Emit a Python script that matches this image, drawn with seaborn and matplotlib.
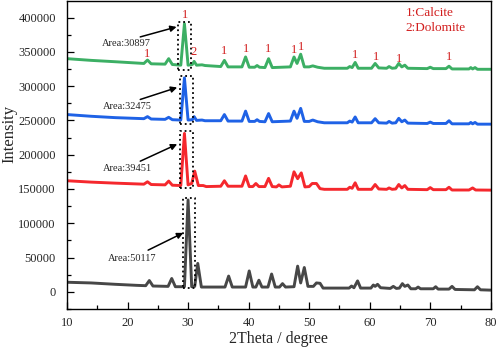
import numpy as np
import pandas as pd
import matplotlib
matplotlib.use("Agg")
import matplotlib.pyplot as plt
import matplotlib.ticker as ticker
import seaborn as sns

# ── data (2Theta in degrees, intensity in counts) ────────────────────────────

green_x = [10, 14, 18, 22.7, 23.3, 23.9, 26.2, 26.8, 27.4, 28.8, 29.4, 30.0, 30.7, 31.0, 31.4,
           32.3, 32.8, 35.4, 36.0, 36.6, 38.9, 39.5, 40.1, 41.0, 41.4, 41.8, 42.7, 43.3, 43.9,
           46.9, 47.5, 48.0, 48.6, 49.2, 50.0, 50.6, 51.4, 52.5, 56.3, 56.7, 57.1, 57.6, 58.1,
           60.3, 60.9, 61.5, 62.8, 63.2, 63.7, 64.3, 64.8, 65.3, 65.8, 66.3, 69.5, 70.0, 70.5,
           72.6, 73.1, 73.6, 76.4, 76.7, 77.0, 77.4, 77.8, 80]
green_y = [340000, 337500, 335500, 333000, 338000, 332500, 332000, 340000, 331500, 330500, 391000,
           330500, 331500, 336000, 330500, 331000, 330000, 328500, 337500, 328000, 328000, 342500,
           327500, 327500, 330000, 327500, 327000, 340000, 327000, 328000, 342500, 333000, 346500,
           328000, 328000, 329500, 327500, 326000, 326000, 328500, 327000, 334500, 326000, 326000,
           333000, 326500, 326000, 328500, 326000, 326500, 333000, 328000, 330500, 326000, 325500,
           327500, 325500, 325500, 329000, 325000, 325000, 327000, 325000, 327000, 324500, 324500]

blue_x = green_x
blue_y = [258500, 256000, 254000, 252500, 255500, 252000, 251500, 254500, 251000, 250500, 312000,
          250500, 251000, 255500, 250000, 250500, 249500, 249500, 258500, 249000, 249000, 263500,
          248500, 248500, 251000, 248500, 248000, 260000, 248000, 249000, 263500, 253000, 267500,
          248500, 248500, 250500, 248000, 246500, 246500, 249000, 247500, 255000, 246500, 246500,
          252500, 246500, 246000, 248500, 246000, 246500, 253000, 248000, 250500, 246000, 245500,
          247500, 245500, 245500, 249500, 245000, 245000, 247000, 245000, 247000, 244500, 244500]

red_x = [10, 14, 18, 22.7, 23.3, 23.9, 26.2, 26.8, 27.4, 28.8, 29.4, 30.0, 30.6, 31.1, 31.7,
         32.5, 33.0, 35.4, 36.0, 36.6, 38.9, 39.5, 40.1, 40.7, 41.2, 41.7, 42.7, 43.3, 43.9,
         44.6, 45.0, 45.5, 46.9, 47.5, 48.1, 48.7, 49.3, 50.0, 50.5, 51.2, 51.8, 52.5, 56.3,
         56.7, 57.1, 57.6, 58.1, 60.3, 60.9, 61.5, 62.8, 63.2, 63.7, 64.3, 64.8, 65.3, 65.8,
         66.3, 69.5, 70.0, 70.5, 72.6, 73.1, 73.6, 76.4, 77.0, 77.5, 80]
red_y = [162000, 160000, 158500, 157000, 160500, 156500, 156000, 161500, 155500, 155000, 231000,
         156000, 158000, 176000, 155000, 155000, 153500, 154000, 162000, 154000, 154000, 169000,
         153500, 153500, 158000, 153500, 153500, 165500, 153500, 153000, 156000, 153000, 154000,
         175000, 165000, 173500, 153000, 153500, 158000, 158000, 150500, 149500, 149500, 152500,
         151000, 159000, 149500, 149500, 156500, 150000, 149500, 151500, 149500, 150000, 156500,
         151500, 155000, 149500, 149000, 152000, 149000, 149000, 152500, 148500, 148500, 151500,
         148500, 148300]

black_x = [10, 14, 18, 21.5, 23.0, 23.6, 24.2, 26.7, 27.3, 27.9, 29.4, 30.0, 30.6, 31.1, 31.6,
           32.2, 33.5, 36.1, 36.7, 37.3, 39.5, 40.1, 40.7, 41.2, 41.7, 42.2, 43.2, 43.8, 44.4,
           45.1, 45.6, 46.1, 47.5, 48.1, 48.6, 49.2, 49.8, 50.7, 51.2, 51.8, 52.3, 56.6, 57.0,
           57.4, 58.0, 58.5, 60.2, 60.6, 60.9, 61.3, 61.8, 63.4, 63.9, 64.4, 64.9, 65.4, 65.8,
           66.3, 66.8, 67.6, 68.0, 68.4, 70.5, 70.9, 71.3, 73.1, 73.6, 74.1, 77.3, 77.8, 78.3, 80]
black_y = [14000, 13000, 11000, 9500, 9000, 16500, 8500, 8000, 19500, 7500, 7500, 134000, 7500,
           8000, 41500, 7000, 7000, 7000, 23000, 7000, 7000, 30500, 7000, 7000, 17000, 7000, 7000,
           26000, 7000, 7000, 12000, 7000, 7500, 37500, 13000, 35500, 8000, 8000, 13000, 12500,
           5500, 5500, 8500, 6000, 16000, 5500, 5500, 10000, 8000, 11000, 6000, 5000, 8000, 5000,
           5500, 12000, 8000, 10000, 4500, 4500, 7000, 4500, 4500, 7500, 4000, 4000, 8000, 3500,
           3000, 7500, 3000, 2500]

samples = ["black", "red", "blue", "green"]
colors = {"black": "#474747", "red": "#f5282d", "blue": "#1f62e6", "green": "#3caf64"}

# main-peak integration windows: (x0, x1, y0, y1) and peak areas
box_x0 = [29.1, 28.6, 28.6, 28.4]
box_x1 = [31.15, 30.8, 30.8, 30.45]
box_y0 = [6000, 150700, 244500, 323200]
box_y1 = [137000, 234700, 314400, 393600]
areas = [50117, 39451, 32475, 30897]
text_x = [20.8, 20.0, 19.9, 19.8]
text_y = [48700, 179900, 270700, 362100]
tail_x = [23.4, 22.1, 22.1, 22.1]
tail_y = [60800, 190500, 280500, 371700]
tip_x = [29.2, 28.2, 28.2, 28.1]
tip_y = [86000, 215300, 298000, 386300]

# phase labels on the green pattern
phase_x = [23.3, 29.5, 30.95, 35.95, 39.6, 43.2, 47.5, 48.7, 57.6, 61.0, 64.8, 73.1]
phase_y = [347500, 403400, 349000, 351300, 353800, 353800, 353300, 357100, 346000, 342600, 340200, 341700]
phase_txt = ["1", "1", "2", "1", "1", "1", "1", "1", "1", "1", "1", "1"]

# ── build long table ─────────────────────────────────────────────────────────

frames = []
for name, xs, ys in [("black", black_x, black_y), ("red", red_x, red_y),
                     ("blue", blue_x, blue_y), ("green", green_x, green_y)]:
    frames.append(pd.DataFrame({"two_theta": xs, "intensity": ys, "sample": name}))
df = pd.concat(frames, ignore_index=True)

# ── plot ─────────────────────────────────────────────────────────────────────

sns.set_style("ticks")
plt.rcParams["font.family"] = ["Liberation Serif", "DejaVu Serif"]

fig = plt.figure(figsize=(4.98, 3.49), dpi=100)
ax = fig.add_axes([0.1345, 0.1146, 0.851, 0.8824])

sns.lineplot(data=df, x="two_theta", y="intensity", hue="sample", hue_order=samples,
             palette=colors, sort=False, estimator=None, lw=2.1, legend=False, ax=ax)

for i in range(4):
    ax.plot([box_x0[i], box_x1[i], box_x1[i], box_x0[i], box_x0[i]],
            [box_y0[i], box_y0[i], box_y1[i], box_y1[i], box_y0[i]],
            color="black", ls=":", lw=1.3)
    ax.annotate("", xy=(tip_x[i], tip_y[i]), xytext=(tail_x[i], tail_y[i]),
                arrowprops=dict(arrowstyle="-|>", color="black", lw=1.1,
                                mutation_scale=9, shrinkA=0, shrinkB=0))
    ax.text(text_x[i], text_y[i], f"Area:{areas[i]}", fontsize=7.5,
            ha="center", va="center")

for x, y, t in zip(phase_x, phase_y, phase_txt):
    ax.text(x, y, t, color="#d21e1e", fontsize=9, ha="center", va="center")

ax.text(65.9, 407300, "1:Calcite", color="#d21e1e", fontsize=9.5, ha="left", va="center")
ax.text(65.9, 384000, "2:Dolomite", color="#d21e1e", fontsize=9.5, ha="left", va="center")

ax.set_xlim(10, 80)
ax.set_ylim(-25000, 424000)
ax.xaxis.set_major_locator(ticker.MultipleLocator(10))
ax.xaxis.set_minor_locator(ticker.MultipleLocator(5))
ax.yaxis.set_major_locator(ticker.MultipleLocator(50000))
ax.yaxis.set_minor_locator(ticker.MultipleLocator(25000))
ax.set_yticks(np.arange(0, 400001, 50000))
ax.tick_params(which="both", direction="in", labelsize=9, color="black")
ax.tick_params(which="major", length=5, width=0.9)
ax.tick_params(which="minor", length=3, width=0.9)
ax.tick_params(axis="y", which="major", pad=8)
ax.tick_params(axis="x", which="major", pad=5.5)
for s in ax.spines.values():
    s.set_color("black")
    s.set_linewidth(1.0)

ax.set_xlabel("2Theta / degree", fontsize=11.5, labelpad=2)
ax.set_ylabel("Intensity", fontsize=12)
ax.yaxis.set_label_coords(-0.117, 0.57)

fig.savefig("out.png", dpi=100)
